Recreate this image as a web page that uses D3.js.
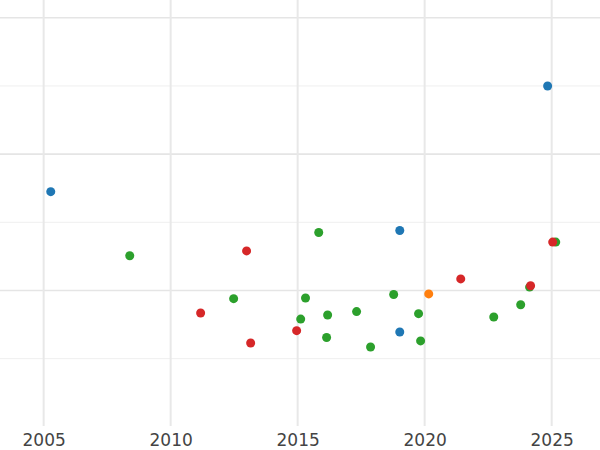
<!DOCTYPE html>
<html><head><meta charset="utf-8">
<script src="https://d3js.org/d3.v7.min.js"></script>
<style>body{margin:0;background:#fff}</style></head><body>
<script>
const blueX=[2005.28,2019.02,2019.02,2024.84];
const blueY=[3.45,2.88,1.39,5.0];
const greenX=[2008.39,2012.48,2015.12,2015.31,2015.83,2016.14,2016.18,2017.32,2017.87,2018.78,2019.76,2019.84,2022.72,2023.78,2024.13,2025.16];
const greenY=[2.51,1.88,1.58,1.89,2.85,1.31,1.64,1.69,1.17,1.94,1.66,1.26,1.61,1.79,2.05,2.71];
const redX=[2011.18,2012.99,2013.15,2014.96,2021.42,2024.17,2025.04];
const redY=[1.67,2.58,1.23,1.41,2.17,2.07,2.71];
const orangeX=[2020.16];
const orangeY=[1.95];
const xTicks=[2005,2010,2015,2020,2025];
const yGrid=[1,2,3,4,5,6];
const series=[
 {x:blueX,y:blueY,c:"#1f77b4"},
 {x:greenX,y:greenY,c:"#2ca02c"},
 {x:redX,y:redY,c:"#d62728"},
 {x:orangeX,y:orangeY,c:"#ff7f0e"}];
const svg=d3.select("body").append("svg").attr("width",600).attr("height",450);
const x=d3.scaleLinear().domain([2003.31,2026.93]).range([0.7,600.7]);
const y=d3.scaleLinear().domain([0,6]).range([426.8,17.8]);
svg.selectAll(".hg").data(yGrid).join("line").attr("x1",0).attr("x2",600)
 .attr("y1",d=>y(d)).attr("y2",d=>y(d)).attr("stroke",d=>d%2===0?"#e5e5e5":"#efefef").attr("stroke-width",d=>d%2===0?1.6:1);
const ax=svg.append("g").attr("transform","translate(0,426)").call(d3.axisBottom(x).tickValues(xTicks).tickFormat(d3.format("d")).tickSize(0).tickPadding(8));
ax.select(".domain").remove();
ax.selectAll("text").attr("font-family","DejaVu Sans").attr("font-size",17).attr("fill","#444");
svg.selectAll(".vg").data(xTicks).join("line").attr("x1",d=>x(d)).attr("x2",d=>x(d))
 .attr("y1",0).attr("y2",426).attr("stroke","#e8e8e8").attr("stroke-width",2);
series.forEach(s=>{
 svg.append("g").selectAll("circle").data(s.x.map((v,i)=>[v,s.y[i]])).join("circle")
  .attr("cx",d=>x(d[0])).attr("cy",d=>y(d[1])).attr("r",4.5).attr("fill",s.c);
});
</script></body></html>
